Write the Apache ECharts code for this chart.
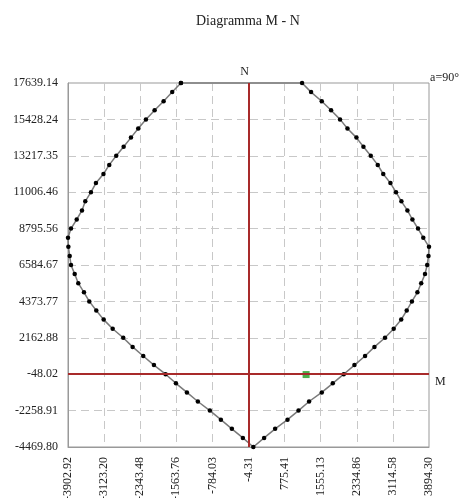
<!DOCTYPE html>
<html>
<head>
<meta charset="utf-8">
<script src="https://cdn.jsdelivr.net/npm/echarts@6/dist/echarts.min.js"></script>
<style>html,body{margin:0;padding:0;background:#fff}#c{width:460px;height:498px}</style>
</head>
<body>
<div id="c"></div>
<script>
const xTickLabels = ['-3902.92','-3123.20','-2343.48','-1563.76','-784.03','-4.31','775.41','1555.13','2334.86','3114.58','3894.30'];
const yTickLabels = ['-4469.80','-2258.91','-48.02','2162.88','4373.77','6584.67','8795.56','11006.46','13217.35','15428.24','17639.14'];

// Axial force levels (bottom to top)
const nValues = [-4469.80,-3917.08,-3364.35,-2811.63,-2258.91,-1706.18,-1153.46,-600.74,-48.02,504.71,
  1057.44,1610.16,2162.88,2715.61,3268.33,3821.05,4373.78,4926.50,5479.22,6031.95,
  6584.67,7137.39,7690.12,8242.84,8795.56,9348.29,9901.01,10453.73,11006.46,11559.18,
  12111.91,12664.63,13217.35,13770.08,14322.80,14875.52,15428.25,15980.97,16533.69,17086.42,17639.14];
// Moment on the negative branch (per N level, bottom to top)
const mLeft = [100,-126,-364,-601,-839,-1098,-1335,-1572,-1795,-2047,
  -2278,-2507,-2710,-2938,-3133,-3292,-3443,-3558,-3681,-3758,
  -3838,-3866,-3895,-3902.92,-3838,-3715,-3601,-3530,-3407,-3299,
  -3137,-3012,-2861,-2701,-2543,-2386,-2220,-2032,-1838,-1652,-1464];
// Moment on the positive branch (per N level, bottom to top)
const mRight = [100,333,571,838,1076,1304,1578,1816,2053,2284,
  2513,2716,2944,3132,3294,3413,3525,3644,3726,3808,
  3855,3883,3894.30,3771,3657,3536,3428,3298,3182,3061,
  2906,2787,2636,2478,2327,2133,1973,1779,1578,1347,1153];
// Design point
const designPoint = [[1240, -70]];

const FONT = 'Liberation Serif';

// closed domain: top-left -> down left branch -> up right branch -> back to top-left
const curve = [];
for (let k = nValues.length - 1; k >= 0; k--) curve.push([mLeft[k], nValues[k]]);
for (let k = 1; k < nValues.length; k++) curve.push([mRight[k], nValues[k]]);
curve.push([mLeft[nValues.length - 1], nValues[nValues.length - 1]]);

const chart = echarts.init(document.getElementById('c'), null, {renderer: 'canvas'});
chart.setOption({
  animation: false,
  backgroundColor: '#fff',
  title: {
    text: 'Diagramma M - N',
    left: 191, top: 9,
    textStyle: {fontFamily: FONT, fontSize: 14, fontWeight: 'normal', color: '#222'}
  },
  grid: {left: 68, top: 83, width: 361, height: 364, outerBoundsMode: 'none', containLabel: false,
    show: true, borderColor: '#999', borderWidth: 1, backgroundColor: 'transparent'},
  xAxis: {
    type: 'value',
    min: Number(xTickLabels[0]), max: Number(xTickLabels[xTickLabels.length - 1]),
    axisLine: {show: true, onZero: false, lineStyle: {color: '#999', width: 1}},
    axisTick: {show: false, customValues: xTickLabels.map(Number)},
    axisLabel: {
      customValues: xTickLabels.map(Number),
      rotate: 90, margin: 10, hideOverlap: false,
      fontFamily: FONT, fontSize: 12, color: '#222',
      formatter: v => v.toFixed(2)
    },
    splitLine: {show: true, showMinLine: false, showMaxLine: false, lineStyle: {color: '#c8c8c8', type: [8, 5], width: 1}}
  },
  yAxis: {
    type: 'value',
    min: Number(yTickLabels[0]), max: Number(yTickLabels[yTickLabels.length - 1]),
    axisLine: {show: true, onZero: false, lineStyle: {color: '#999', width: 1}},
    axisTick: {show: false, customValues: yTickLabels.map(Number)},
    axisLabel: {
      customValues: yTickLabels.map(Number),
      margin: 10, hideOverlap: false,
      fontFamily: FONT, fontSize: 12, color: '#222',
      formatter: v => v.toFixed(2)
    },
    splitLine: {show: true, showMinLine: false, showMaxLine: false, lineStyle: {color: '#c8c8c8', type: [8, 5], width: 1}}
  },
  graphic: [{
    type: 'text', right: 1, top: 72,
    style: {text: 'a=90°', fontFamily: FONT, fontSize: 12, fill: '#222'}
  }],
  series: [
    {
      type: 'line', data: [], z: 1, silent: true,
      markLine: {
        silent: true, symbol: 'none', animation: false,
        lineStyle: {color: '#a82a2a', width: 2, type: 'solid'},
        data: [
          {xAxis: 0, label: {show: true, formatter: 'N', position: 'end', fontFamily: FONT, fontSize: 12, color: '#222', distance: 5, offset: [-4, 0]}},
          {yAxis: 0, label: {show: true, formatter: 'M', position: 'end', fontFamily: FONT, fontSize: 12, color: '#222', distance: 6, offset: [0, 8]}}
        ]
      }
    },
    {
      type: 'line', data: curve, z: 3, clip: false,
      lineStyle: {color: '#7a7a7a', width: 1.5},
      symbol: 'circle', symbolSize: 4.5, showSymbol: true,
      itemStyle: {color: '#000'}
    },
    {
      type: 'scatter', data: designPoint, z: 4,
      symbol: 'rect', symbolSize: 7,
      itemStyle: {color: '#1f9a1f'}
    }
  ]
});
</script>
</body>
</html>
